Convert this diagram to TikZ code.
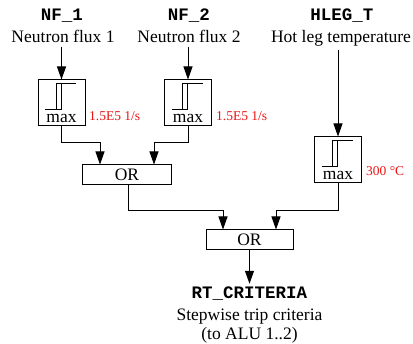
\documentclass[tikz,border=0pt]{standalone}
\usepackage{fontspec}
\setmainfont{Liberation Serif}
\setmonofont{Liberation Mono}
\usetikzlibrary{arrows.meta}
\definecolor{limRed}{RGB}{235, 20, 20}

\tikzset{
  signame/.style={font=\fontsize{17.5}{20}\selectfont\ttfamily\bfseries, anchor=base},
  sigdesc/.style={font=\fontsize{17.5}{20}\selectfont, anchor=base},
  limbox/.style={draw, line width=1pt, minimum width=47pt, minimum height=46pt, inner sep=0pt},
  orbox/.style={draw, line width=1pt, minimum height=20pt, inner sep=0pt,
    font=\fontsize{17.5}{20}\selectfont},
  limval/.style={text=limRed, font=\fontsize{13.5}{16}\selectfont, anchor=base west, inner sep=0pt},
  flow/.style={line width=1pt, -{Triangle[length=13pt,width=9pt]}}
}

\begin{document}
\begin{tikzpicture}[x=1pt, y=-1pt]
  \useasboundingbox (0,0) rectangle (413,344);

  % inputs
  \node[signame] (nf1) at (62,21) {NF\_1};
  \node[sigdesc] (nf1desc) at (63,43) {Neutron flux 1};
  \node[signame] (nf2) at (189,21) {NF\_2};
  \node[sigdesc] (nf2desc) at (189,43) {Neutron flux 2};
  \node[signame] (hleg) at (342,21) {HLEG\_T};
  \node[sigdesc] (hlegdesc) at (341,43) {Hot leg temperature};

  % limit checks
  \node[limbox] (lim1) at (61.5,103) {};
  \node[limbox] (lim2) at (188,103) {};
  \node[limbox] (lim3) at (338,160) {};
  \foreach \b in {lim1,lim2,lim3} {
    \draw[line width=1pt] ([shift={(-16.5,7)}]\b.center) -- ([shift={(-0.5,7)}]\b.center)
      -- ([shift={(-0.5,-19)}]\b.center);
    \draw[line width=1pt] ([shift={(-5.5,7)}]\b.center) -- ([shift={(-5.5,-19)}]\b.center)
      -- ([shift={(14.5,-19)}]\b.center);
    \node[sigdesc, inner sep=0pt] at ([shift={(0,20)}]\b.center) {max};
  }
  \node[limval] (val1) at (89,121) {1.5E5 1/s};
  \node[limval] (val2) at (216,121) {1.5E5 1/s};
  \node[limval] (val3) at (366,176) {300 °C};

  % logic
  \node[orbox, minimum width=89pt] (or1) at (127,175) {OR};
  \node[orbox, minimum width=87pt] (or2) at (249.5,240) {OR};

  % output
  \node[signame] (rt) at (249.5,299) {RT\_CRITERIA};
  \node[sigdesc] (rtdesc) at (249.5,321) {Stepwise trip criteria};
  \node[sigdesc] (rtdesc2) at (249.5,340) {(to ALU 1..2)};

  \draw[flow] (lim1 |- nf1desc.south) -- (lim1.north);
  \draw[flow] (lim2 |- nf2desc.south) -- (lim2.north);
  \draw[flow] (lim3 |- hlegdesc.south) -- (lim3.north);

  \draw[flow] (lim1.south) -- ++(0,16) -| ([xshift=-27]or1.north);
  \draw[flow] (lim2.south) -- ++(0,16) -| ([xshift=27]or1.north);
  \draw[flow] ([xshift=1]or1.south) -- ++(0,25) -| ([xshift=-26.5]or2.north);
  \draw[flow] (lim3.south) -- ++(0,27) -| ([xshift=26.5]or2.north);
  \draw[flow] (or2.south) -- (rt.north);
\end{tikzpicture}
\end{document}
